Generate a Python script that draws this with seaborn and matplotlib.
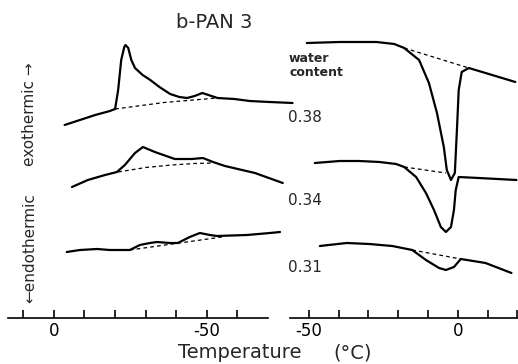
import numpy as np
import pandas as pd
import matplotlib
matplotlib.use("Agg")
import matplotlib.pyplot as plt
import seaborn as sns

# DSC traces; heat flow in arbitrary units (0 = axis line)
# cooling runs (left panel)
cool_T_038 = [-3.5, -8.5, -13.5, -18.3, -20.0, -21.0, -22.0, -23.0, -23.4, -24.3, -25.3, -26.5,
              -29.0, -31.5, -34.5, -38.0, -41.0, -43.5, -46.0, -48.5, -50.5, -53.5, -59.0,
              -64.0, -70.5, -78.0]
cool_Q_038 = [193, 198, 203, 207, 209, 228, 258, 271, 273, 270, 258, 250, 243, 238, 231, 224,
              221, 220, 222, 225, 223, 220, 219, 217, 216, 215]
cool_base_T_038 = [-20.0, -36.0, -53.3]
cool_base_Q_038 = [209, 215.5, 220]

cool_T_034 = [-5.9, -11.1, -16.7, -20.6, -23.2, -26.5, -29.1, -33.0, -39.5, -45.1, -48.7, -52.0,
              -55.9, -65.7, -74.8]
cool_Q_034 = [131, 138, 143, 146, 153, 165, 171, 166, 159, 159, 160, 156, 152, 145, 135]
cool_base_T_034 = [-21.0, -30.0, -38.5, -46.0, -52.0]
cool_base_Q_034 = [146, 150.5, 153, 154.5, 155]

cool_T_031 = [-4.2, -8.5, -14.1, -18.3, -24.8, -28.1, -31.4, -33.7, -37.9, -40.5, -44.4, -47.7,
              -51.0, -53.3, -63.1, -70.6, -73.9]
cool_Q_031 = [66, 68, 69, 68, 68, 73, 75, 76, 75, 75, 81, 85, 83, 82, 83, 85, 86]
cool_base_T_031 = [-24.8, -54.9]
cool_base_Q_031 = [68, 81]

# heating runs (right panel)
heat_T_038 = [-50.7, -39.7, -27.3, -21.3, -18.0, -13.0, -9.7, -7.0, -4.7, -3.7, -2.3, -1.0,
              -0.3, 0.3, 1.3, 3.7, 9.3, 19.3]
heat_Q_038 = [275, 276, 276, 274, 270, 258, 235, 205, 171, 148, 138, 145, 188, 228, 246, 250,
              245, 236]
heat_base_T_038 = [-18.0, 3.7]
heat_base_Q_038 = [270, 250]

heat_T_034 = [-48.0, -39.7, -33.0, -26.3, -20.7, -18.0, -14.0, -10.7, -8.0, -5.7, -4.0, -2.3,
              -1.3, -0.7, 0.3, 7.0, 19.7]
heat_Q_034 = [155, 157, 157, 156, 154, 151, 141, 125, 108, 91, 86, 91, 108, 128, 141, 140, 138]
heat_base_T_034 = [-18.0, -4.0]
heat_base_Q_034 = [151, 145]

heat_T_031 = [-46.3, -37.3, -29.7, -22.0, -15.3, -10.7, -6.3, -4.0, -1.3, 1.0, 9.3, 18.0]
heat_Q_031 = [72, 75, 74, 72, 68, 58, 50, 48, 51, 59, 55, 45]
heat_base_T_031 = [-15.3, 1.0]
heat_base_Q_031 = [68, 59]

water_labels = ["0.38", "0.34", "0.31"]
cool_ticks = [10, 0, -10, -20, -30, -40, -50, -60]
cool_ticklabels = ["", "0", "", "", "", "", "-50", ""]
heat_ticks = [-50, -40, -30, -20, -10, 0, 10, 20]
heat_ticklabels = ["-50", "", "", "", "", "0", "", ""]

W, H = 518, 364


def draw_traces(ax, traces):
    for T, Q, bT, bQ in traces:
        df = pd.DataFrame({"T": T, "Q": Q})
        sns.lineplot(data=df, x="T", y="Q", ax=ax, color="black", linewidth=1.6,
                     sort=False, estimator=None)
        bdf = pd.DataFrame({"T": bT, "Q": bQ})
        sns.lineplot(data=bdf, x="T", y="Q", ax=ax, color="black", linewidth=0.9,
                     linestyle=(0, (3, 2.5)), sort=False, estimator=None)


def style_axis(ax, bounds, ticks, labels):
    for side in ["top", "left", "right"]:
        ax.spines[side].set_visible(False)
    ax.spines["bottom"].set_bounds(*bounds)
    ax.spines["bottom"].set_linewidth(1.2)
    ax.spines["bottom"].set_color("black")
    ax.set_xticks(ticks)
    ax.set_xticklabels(labels, fontsize=12)
    ax.tick_params(axis="x", bottom=True, direction="in", length=6, width=1.2, pad=3,
                   color="black", labelcolor="black")
    ax.set_yticks([])
    ax.set_xlabel("")
    ax.set_ylabel("")
    ax.set_ylim(0, 288)
    ax.patch.set_alpha(0)


sns.set_style("white")
plt.rcParams["font.family"] = ["DejaVu Sans"]

fig = plt.figure(figsize=(W / 100, H / 100), dpi=100)
bottom = (H - 318) / H
height = 288 / H

ax1 = fig.add_axes([8 / W, bottom, 287 / W, height])
draw_traces(ax1, [
    (cool_T_038, cool_Q_038, cool_base_T_038, cool_base_Q_038),
    (cool_T_034, cool_Q_034, cool_base_T_034, cool_base_Q_034),
    (cool_T_031, cool_Q_031, cool_base_T_031, cool_base_Q_031),
])
ax1.set_xlim(15.0, -78.8)
style_axis(ax1, (15, -70), cool_ticks, cool_ticklabels)

ax2 = fig.add_axes([288 / W, bottom, 230 / W, height])
draw_traces(ax2, [
    (heat_T_038, heat_Q_038, heat_base_T_038, heat_base_Q_038),
    (heat_T_034, heat_Q_034, heat_base_T_034, heat_base_Q_034),
    (heat_T_031, heat_Q_031, heat_base_T_031, heat_base_Q_031),
])
ax2.set_xlim(-57.0, 20.2)
style_axis(ax2, (-56.3, 20.2), heat_ticks, heat_ticklabels)

# labels
fig.text(214 / W, 1 - 22 / H, "b-PAN 3", ha="center", va="center", fontsize=14)
fig.text(289 / W, 1 - 65 / H, "water\ncontent", ha="left", va="center", fontsize=9,
         fontweight="bold", linespacing=1.1)
for lab, y in zip(water_labels, [118, 200, 268]):
    fig.text(288 / W, 1 - y / H, lab, ha="left", va="center", fontsize=11)
fig.text(30 / W, 1 - 114 / H, "exothermic \u2192", rotation=90, ha="center", va="center",
         fontsize=11)
fig.text(30 / W, 1 - 248 / H, "\u2190endothermic", rotation=90, ha="center", va="center",
         fontsize=11)
fig.text(240 / W, 1 - 353 / H, "Temperature", ha="center", va="center", fontsize=14)
fig.text(353 / W, 1 - 353 / H, "(\u00b0C)", ha="center", va="center", fontsize=14)

fig.savefig("out.png", dpi=100)
plt.close(fig)
